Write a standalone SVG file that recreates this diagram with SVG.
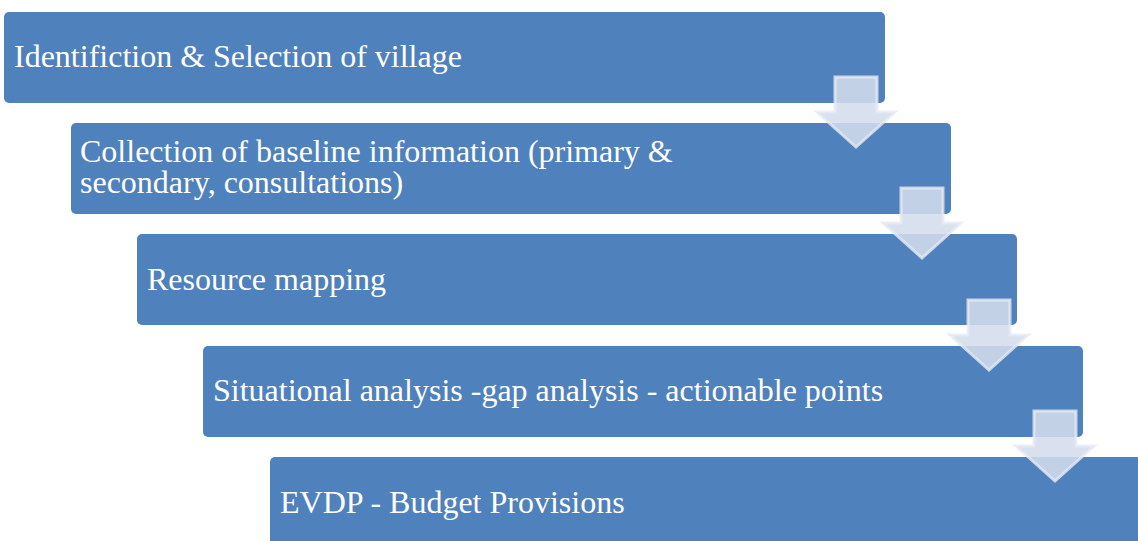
<svg xmlns="http://www.w3.org/2000/svg" width="1138" height="541" viewBox="0 0 1138 541">
<style>
.box{fill:#4F81BD;}
.t{font-family:"Liberation Serif","Times New Roman",serif;font-size:32px;fill:#ffffff;}
.arr{fill:rgb(212,220,236);fill-opacity:0.88;stroke:rgb(230,234,244);stroke-opacity:0.8;stroke-width:3;stroke-linejoin:miter;}
</style>
<defs>
<path id="dn" d="M0,0 H42 V35 H60 L21,70 L-18,35 H0 Z"/>
</defs>
<rect width="1138" height="541" fill="#ffffff"/>
<g id="n1"><rect class="box" x="4" y="12" width="881" height="91" rx="5"/><text class="t" x="14" y="67">Identifiction &amp; Selection of village</text></g>
<g id="n2"><rect class="box" x="71" y="123" width="880" height="91" rx="5"/><text class="t" x="80" y="162">Collection of baseline information (primary &amp;</text><text class="t" x="80" y="193">secondary, consultations)</text></g>
<g id="n3"><rect class="box" x="137" y="234" width="880" height="91" rx="5"/><text class="t" x="147" y="290">Resource mapping</text></g>
<g id="n4"><rect class="box" x="203" y="346" width="880" height="91" rx="5"/><text class="t" x="213" y="401">Situational analysis -gap analysis - actionable points</text></g>
<g id="n5"><rect class="box" x="270" y="457" width="880" height="91" rx="5"/><text class="t" x="280" y="513">EVDP - Budget Provisions</text></g>
<g id="connectors">
<use href="#dn" class="arr" x="835" y="77"/>
<use href="#dn" class="arr" x="901" y="188"/>
<use href="#dn" class="arr" x="968" y="300"/>
<use href="#dn" class="arr" x="1034" y="411"/>
</g>
</svg>
